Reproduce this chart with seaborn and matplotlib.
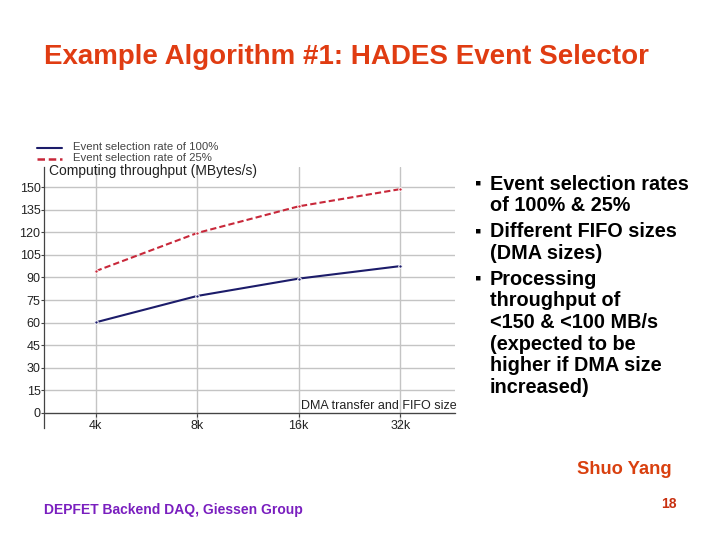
import matplotlib
matplotlib.use("Agg")
from matplotlib import pyplot as plt
from matplotlib.lines import Line2D
import seaborn as sns
import pandas as pd

# data
dma_sizes = ['4k', '8k', '16k', '32k']
rate_100 = [60.2, 77.7, 89.2, 97.5]
rate_25 = [94.2, 119.5, 137.2, 148.6]
yticks = [0, 15, 30, 45, 60, 75, 90, 105, 120, 135, 150]

df = pd.DataFrame({
    'size': dma_sizes * 2,
    'throughput': rate_100 + rate_25,
    'rate': ['Event selection rate of 100%'] * 4 + ['Event selection rate of 25%'] * 4,
})

sns.set_theme(style='white')
plt.rcParams['font.family'] = ['Liberation Sans', 'DejaVu Sans']

fig = plt.figure(figsize=(7.2, 5.4), dpi=100)
ax = fig.add_axes([44 / 720, 1 - 428 / 540, (455 - 44) / 720, (428 - 167) / 540])

blue = '#1c1c6a'
red = '#c8283a'
sns.lineplot(data=df, x='size', y='throughput', hue='rate', style='rate',
             palette=[blue, red], dashes=[(None, None), (3, 1.5)],
             markers=['o', 'o'], markersize=2.5, linewidth=1.5,
             legend=False, ax=ax)

ax.set_xlim(-0.51, 3.54)
ax.set_ylim(-9.96, 163.3)
ax.set_yticks(yticks)
ax.set_xticks(range(len(dma_sizes)))
ax.set_xticklabels(dma_sizes)
ax.grid(True, color='#c4c4c4', linewidth=1)
ax.set_xlabel('')
ax.set_ylabel('')
ax.spines['top'].set_visible(False)
ax.spines['right'].set_visible(False)
ax.spines['bottom'].set_position(('data', 0))
for s in ['left', 'bottom']:
    ax.spines[s].set_color('#444444')
    ax.spines[s].set_linewidth(0.9)
ax.tick_params(axis='y', length=2, width=0.8, color='#444444', labelsize=9,
               labelcolor='#222222', pad=0.5, left=True)
ax.tick_params(axis='x', length=3, width=0.8, color='#444444', labelsize=9,
               labelcolor='#222222', pad=2, bottom=True)

ax.text(1.005, 0.085, 'DMA transfer and FIFO size', transform=ax.transAxes,
        ha='right', va='center', fontsize=9, color='#222222')
fig.text(49 / 720, 1 - 171 / 540, 'Computing throughput (MBytes/s)',
         ha='left', va='center', fontsize=10, color='#222222')

# legend drawn above the chart, like the original
fig.add_artist(Line2D([37 / 720, 62 / 720], [1 - 148 / 540] * 2, color=blue, linewidth=1.5))
fig.add_artist(Line2D([37 / 720, 62 / 720], [1 - 158.5 / 540] * 2, color=red,
                      linewidth=1.8, dashes=(3, 1.5)))
fig.text(73 / 720, 1 - 147 / 540, 'Event selection rate of 100%', fontsize=8.2,
         va='center', color='#444444')
fig.text(73 / 720, 1 - 158 / 540, 'Event selection rate of 25%', fontsize=8.2,
         va='center', color='#444444')

# slide text
fig.text(44 / 720, 1 - 57 / 540, 'Example Algorithm #1: HADES Event Selector',
         fontsize=20, fontweight='bold', color='#e03c12', va='center')

bullets = [
    ['Event selection rates', 'of 100% & 25%'],
    ['Different FIFO sizes', '(DMA sizes)'],
    ['Processing', 'throughput of', '<150 & <100 MB/s', '(expected to be',
     'higher if DMA size', 'increased)'],
]
y = 184
for item in bullets:
    fig.text(478 / 720, 1 - y / 540, '▪', fontsize=13, fontweight='bold',
             va='center', ha='center', color='black')
    for line in item:
        fig.text(490 / 720, 1 - y / 540, line, fontsize=14.3, fontweight='bold',
                 va='center', color='black')
        y += 21.6
    y += 4.5

fig.text(624 / 720, 1 - 470 / 540, 'Shuo Yang', fontsize=13.2, fontweight='bold',
         ha='center', va='center', color='#d9400f')
fig.text(669 / 720, 1 - 504 / 540, '18', fontsize=10, fontweight='bold',
         ha='center', va='center', color='#c83010')
fig.text(44 / 720, 1 - 510 / 540, 'DEPFET Backend DAQ, Giessen Group', fontsize=10,
         fontweight='bold', va='center', color='#7a1fbf')

fig.savefig('out.png', dpi=100, facecolor='white')
